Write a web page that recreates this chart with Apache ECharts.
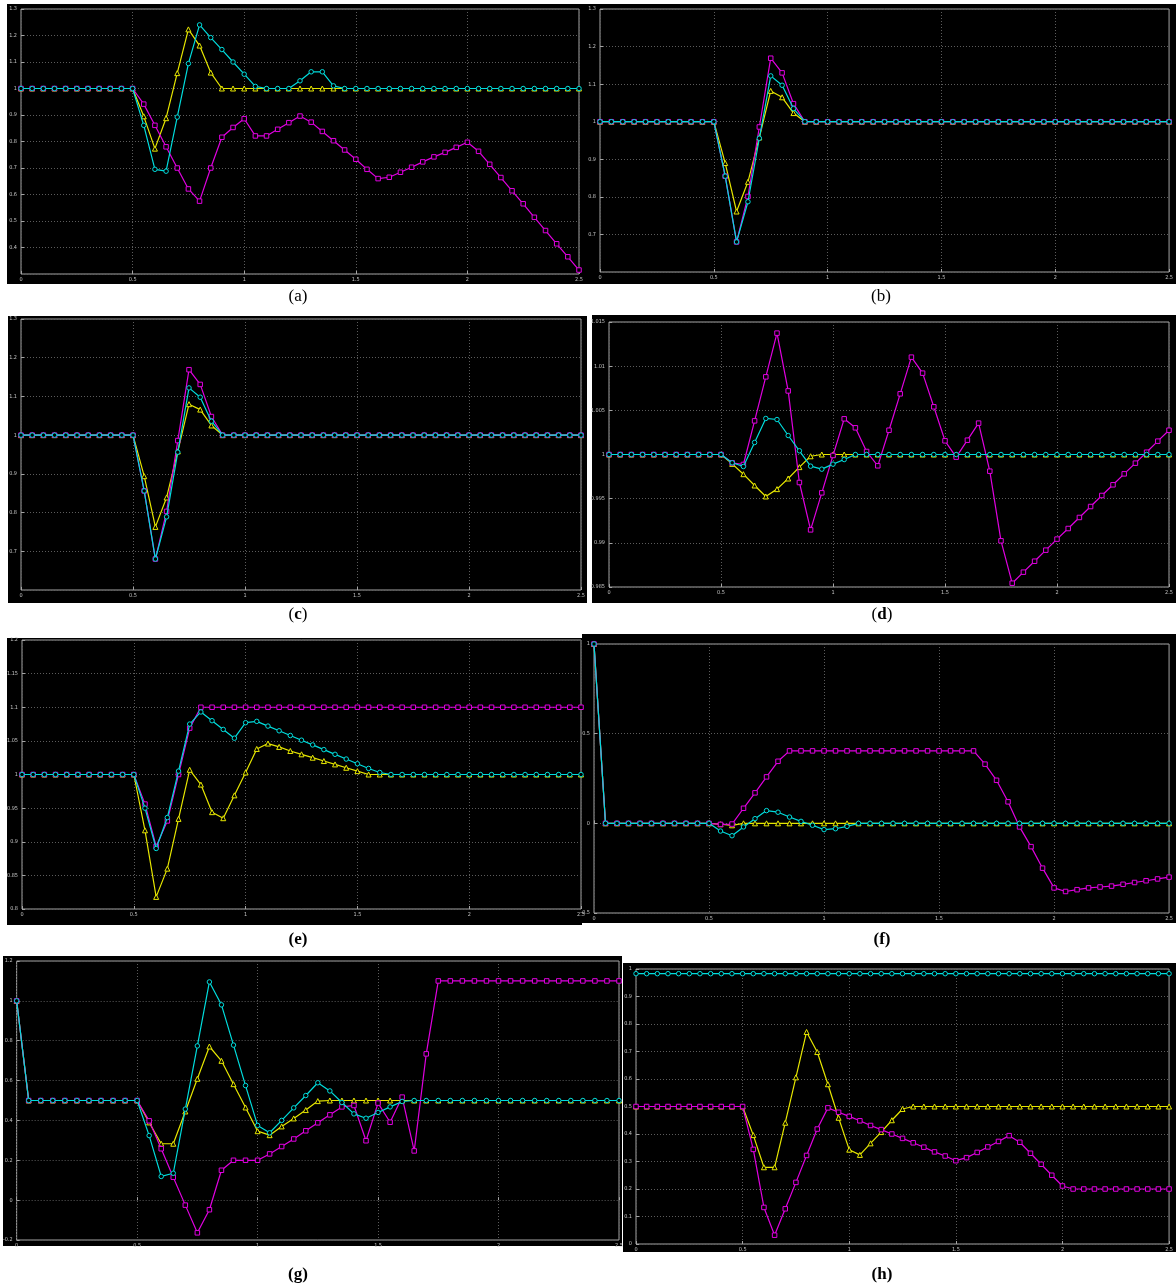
<!DOCTYPE html>
<html>
<head>
<meta charset="utf-8">
<title>Responses (a)-(h)</title>
<script src="https://cdn.jsdelivr.net/npm/echarts@6/dist/echarts.min.js"></script>
<style>
  html, body { margin: 0; padding: 0; background: #fff; }
  #chart { width: 1176px; height: 1287px; }
</style>
</head>
<body>
<div id="chart"></div>
<script>
// Sample times (s)
const T = [0,0.05,0.1,0.15,0.2,0.25,0.3,0.35,0.4,0.45,0.5,0.55,0.6,0.65,0.7,0.75,0.8,0.85,0.9,0.95,
  1,1.05,1.1,1.15,1.2,1.25,1.3,1.35,1.4,1.45,1.5,1.55,1.6,1.65,1.7,1.75,1.8,1.85,1.9,1.95,
  2,2.05,2.1,2.15,2.2,2.25,2.3,2.35,2.4,2.45,2.5];
const X_TICKS = [0, 0.5, 1, 1.5, 2, 2.5];

// (a)
const aYellow = [1,1,1,1,1,1,1,1,1,1,1, 0.895,0.773,0.888,1.058,1.223,1.162,1.06,
  1,1,1,1,1,1,1,1,1,1,1,1,1,1,1,1,1,1,1,1,1,1,1,1,1,1,1,1,1,1,1,1,1];
const aMagenta = [1,1,1,1,1,1,1,1,1,1,1, 0.941,0.861,0.78,0.70,0.621,0.575,0.70,0.816,0.853,
  0.886,0.821,0.821,0.846,0.871,0.896,0.873,0.838,0.803,0.768,0.733,0.695,0.66,0.665,0.684,0.703,0.723,0.742,0.759,0.778,
  0.797,0.763,0.714,0.664,0.614,0.565,0.514,0.464,0.414,0.365,0.315];
const aCyan = [1,1,1,1,1,1,1,1,1,1,1, 0.861,0.695,0.688,0.892,1.094,1.24,1.192,1.147,1.10,
  1.054,1.008,1,1,1,1.029,1.063,1.063,1.01,
  1,1,1,1,1,1,1,1,1,1,1,1,1,1,1,1,1,1,1,1,1,1,1];

// (b)
const bYellow = [1,1,1,1,1,1,1,1,1,1,1, 0.89,0.761,0.84,0.958,1.082,1.065,1.023,
  1,1,1,1,1,1,1,1,1,1,1,1,1,1,1,1,1,1,1,1,1,1,1,1,1,1,1,1,1,1,1,1,1];
const bMagenta = [1,1,1,1,1,1,1,1,1,1,1, 0.855,0.68,0.801,0.986,1.169,1.13,1.048,
  1,1,1,1,1,1,1,1,1,1,1,1,1,1,1,1,1,1,1,1,1,1,1,1,1,1,1,1,1,1,1,1,1];
const bCyan = [1,1,1,1,1,1,1,1,1,1,1, 0.855,0.68,0.787,0.956,1.122,1.097,1.035,
  1,1,1,1,1,1,1,1,1,1,1,1,1,1,1,1,1,1,1,1,1,1,1,1,1,1,1,1,1,1,1,1,1];

// (c)
const cYellow = [1,1,1,1,1,1,1,1,1,1,1, 0.894,0.763,0.839,0.958,1.08,1.066,1.025,
  1,1,1,1,1,1,1,1,1,1,1,1,1,1,1,1,1,1,1,1,1,1,1,1,1,1,1,1,1,1,1,1,1];
const cMagenta = [1,1,1,1,1,1,1,1,1,1,1, 0.856,0.68,0.803,0.986,1.169,1.131,1.048,
  1,1,1,1,1,1,1,1,1,1,1,1,1,1,1,1,1,1,1,1,1,1,1,1,1,1,1,1,1,1,1,1,1];
const cCyan = [1,1,1,1,1,1,1,1,1,1,1, 0.856,0.68,0.789,0.956,1.122,1.098,1.036,
  1,1,1,1,1,1,1,1,1,1,1,1,1,1,1,1,1,1,1,1,1,1,1,1,1,1,1,1,1,1,1,1,1];

// (d)
const dYellow = [1,1,1,1,1,1,1,1,1,1,1, 0.99894,0.99777,0.99649,0.99525,0.99608,0.99728,0.99857,0.9998,
  1,1,1,1,1,1,1,1,1,1,1,1,1,1,1,1,1,1,1,1,1,1,1,1,1,1,1,1,1,1,1,1];
const dMagenta = [1,1,1,1,1,1,1,1,1,1,1, 0.99906,0.99887,1.00381,1.00879,1.01374,1.0072,0.99683,0.99147,0.99566,
  0.99989,1.00404,1.00302,1.00034,0.99872,1.00275,1.00687,1.01102,1.00921,1.0054,1.00155,0.9997,1.00162,1.00355,0.99811,
  0.99023,0.98543,0.98668,0.98792,0.98917,0.99042,0.99162,0.99287,0.99411,0.99536,0.99657,0.99781,0.99902,1.00026,1.00151,1.00275];
const dCyan = [1,1,1,1,1,1,1,1,1,1,1, 0.99906,0.99864,1.00136,1.00408,1.00396,1.00215,1.00042,0.99868,0.99834,
  0.99891,0.99943,
  1,1,1,1,1,1,1,1,1,1,1,1,1,1,1,1,1,1,1,1,1,1,1,1,1,1,1,1,1];

// (e)
const eYellow = [1,1,1,1,1,1,1,1,1,1,1, 0.917,0.818,0.86,0.934,1.007,0.985,0.944,0.935,0.969,
  1.003,1.038,1.046,1.041,1.035,1.03,1.025,1.02,1.015,1.01,1.005,
  1,1,1,1,1,1,1,1,1,1,1,1,1,1,1,1,1,1,1,1];
const eMagenta = [1,1,1,1,1,1,1,1,1,1,1, 0.956,0.893,0.931,1.0,1.069,
  1.1,1.1,1.1,1.1,1.1,1.1,1.1,1.1,1.1,1.1,1.1,1.1,1.1,1.1,1.1,1.1,1.1,1.1,1.1,1.1,1.1,1.1,1.1,1.1,
  1.1,1.1,1.1,1.1,1.1,1.1,1.1,1.1,1.1,1.1,1.1];
const eCyan = [1,1,1,1,1,1,1,1,1,1,1, 0.95,0.89,0.936,1.005,1.075,1.093,1.08,1.067,1.054,
  1.077,1.079,1.072,1.065,1.058,1.051,1.044,1.037,1.03,1.023,1.016,1.009,1.003,
  1,1,1,1,1,1,1,1,1,1,1,1,1,1,1,1,1,1];

// (f)
const fYellow = [1,0,0,0,0,0,0,0,0,0,0, -0.005,-0.011,
  0,0,0,0,0,0,0,0,0,0,0,0,0,0,0,0,0,0,0,0,0,0,0,0,0,0,0,0,0,0,0,0,0,0,0,0,0,0];
const fMagenta = [1,0,0,0,0,0,0,0,0,0,0, -0.006,-0.004,0.084,0.17,0.259,0.346,
  0.404,0.404,0.404,0.404,0.404,0.404,0.404,0.404,0.404,0.404,0.404,0.404,0.404,0.404,0.404,0.404,0.404,
  0.33,0.24,0.12,-0.02,-0.13,-0.25,-0.36,-0.38,-0.37,-0.36,-0.355,-0.35,-0.34,-0.33,-0.32,-0.31,-0.30];
const fCyan = [1,0,0,0,0,0,0,0,0,0,0, -0.043,-0.069,-0.02,0.026,0.071,0.062,0.035,0.011,-0.011,
  -0.035,-0.03,-0.017,
  0,0,0,0,0,0,0,0,0,0,0,0,0,0,0,0,0,0,0,0,0,0,0,0,0,0,0,0];

// (g)
const gYellow = [1,0.5,0.5,0.5,0.5,0.5,0.5,0.5,0.5,0.5,0.5, 0.39,0.283,0.283,0.445,0.609,0.771,0.699,0.582,0.465,
  0.346,0.326,0.37,0.41,0.452,0.497,
  0.5,0.5,0.5,0.5,0.5,0.5,0.5,0.5,0.5,0.5,0.5,0.5,0.5,0.5,0.5,0.5,0.5,0.5,0.5,0.5,0.5,0.5,0.5,0.5,0.5];
const gMagenta = [1,0.5,0.5,0.5,0.5,0.5,0.5,0.5,0.5,0.5,0.5, 0.398,0.258,0.115,-0.025,-0.164,-0.048,0.15,0.2,0.2,
  0.2,0.232,0.269,0.307,0.348,0.388,0.428,0.468,0.475,0.298,0.487,0.391,0.517,0.247,0.734,
  1.1,1.1,1.1,1.1,1.1,1.1,1.1,1.1,1.1,1.1,1.1,1.1,1.1,1.1,1.1,1.1];
const gCyan = [1,0.5,0.5,0.5,0.5,0.5,0.5,0.5,0.5,0.5,0.5, 0.324,0.119,0.135,0.457,0.774,1.095,0.98,0.778,0.575,
  0.375,0.338,0.4,0.463,0.525,0.589,0.548,0.49,0.433,0.411,0.44,0.468,0.495,
  0.5,0.5,0.5,0.5,0.5,0.5,0.5,0.5,0.5,0.5,0.5,0.5,0.5,0.5,0.5,0.5,0.5,0.5];

// (h)
const hYellow = [0.5,0.5,0.5,0.5,0.5,0.5,0.5,0.5,0.5,0.5,0.5, 0.396,0.279,0.279,0.441,0.606,0.771,0.698,0.581,0.459,
  0.343,0.324,0.366,0.407,0.45,0.491,
  0.5,0.5,0.5,0.5,0.5,0.5,0.5,0.5,0.5,0.5,0.5,0.5,0.5,0.5,0.5,0.5,0.5,0.5,0.5,0.5,0.5,0.5,0.5,0.5,0.5];
const hMagenta = [0.5,0.5,0.5,0.5,0.5,0.5,0.5,0.5,0.5,0.5,0.5, 0.344,0.133,0.032,0.128,0.224,0.322,0.418,0.495,0.479,
  0.464,0.448,0.431,0.416,0.4,0.384,0.368,0.352,0.335,0.32,0.303,0.314,0.333,0.353,0.373,0.394,0.37,0.33,0.29,0.25,
  0.211,0.2,0.2,0.2,0.2,0.2,0.2,0.2,0.2,0.2,0.2];
const hCyan = [0.983,0.983,0.983,0.983,0.983,0.983,0.983,0.983,0.983,0.983,0.983,0.983,0.983,0.983,0.983,0.983,0.983,
  0.983,0.983,0.983,0.983,0.983,0.983,0.983,0.983,0.983,0.983,0.983,0.983,0.983,0.983,0.983,0.983,0.983,0.983,0.983,
  0.983,0.983,0.983,0.983,0.983,0.983,0.983,0.983,0.983,0.983,0.983,0.983,0.983,0.983,0.983];

// Y-axis ranges [min, max, step] per panel
const Y_RANGES = {
  a: [0.3, 1.3, 0.1], b: [0.6, 1.3, 0.1], c: [0.6, 1.3, 0.1], d: [0.985, 1.015, 0.005],
  e: [0.8, 1.2, 0.05], f: [-0.5, 1, 0.5], g: [-0.2, 1.2, 0.2], h: [0, 1, 0.1]
};

const SERIES = {
  a: [aYellow, aMagenta, aCyan], b: [bYellow, bMagenta, bCyan],
  c: [cYellow, cMagenta, cCyan], d: [dYellow, dMagenta, dCyan],
  e: [eYellow, eMagenta, eCyan], f: [fYellow, fMagenta, fCyan],
  g: [gYellow, gMagenta, gCyan], h: [hYellow, hMagenta, hCyan]
};

// Layout: black figure area, plot box and caption for each panel
const LAYOUT = [
  { key: 'a', bg: [7, 4, 581, 280],    box: [21, 9, 558, 265],   hideMin: true,  cap: [298, 297], bold: 'none' },
  { key: 'b', bg: [588, 4, 588, 280],  box: [600, 9, 570, 263],  hideMin: true,  cap: [881, 297], bold: 'none' },
  { key: 'c', bg: [8, 316, 579, 287],  box: [21, 319, 560, 271], hideMin: true,  cap: [298, 615], bold: 'letter' },
  { key: 'd', bg: [592, 315, 584, 288],box: [609, 322, 560, 265],hideMin: false, cap: [882, 615], bold: 'letter' },
  { key: 'e', bg: [7, 638, 575, 287],  box: [22, 640, 559, 269], hideMin: false, cap: [298, 940], bold: 'all' },
  { key: 'f', bg: [582, 634, 594, 289],box: [594, 644, 580, 269],hideMin: false, cap: [882, 940], bold: 'all' },
  { key: 'g', bg: [3, 956, 619, 290],  box: [16, 961, 603, 279], hideMin: false, cap: [298, 1275], bold: 'all' },
  { key: 'h', bg: [623, 963, 553, 289],box: [636, 969, 542, 275],hideMin: false, cap: [882, 1275], bold: 'all' }
];

const COLORS = ['#e6e600', '#e000e0', '#00dcdc'];
const SYMBOLS = ['triangle', 'rect', 'circle'];
const SIZES = [5, 4.5, 4.5];
const TICK_FONT = '"Liberation Sans Narrow", "DejaVu Sans Condensed", "Liberation Sans", sans-serif';

const grids = [], xAxes = [], yAxes = [], series = [], graphics = [];

LAYOUT.forEach((p, i) => {
  const [ymin, ymax, ystep] = Y_RANGES[p.key];
  graphics.push({
    type: 'rect', z: -10,
    shape: { x: p.bg[0], y: p.bg[1], width: p.bg[2], height: p.bg[3] },
    style: { fill: '#000' }
  });
  let capText, rich = {
    n: { fontFamily: 'Liberation Serif', fontSize: 17, fontWeight: 'normal', fill: '#000', color: '#000' },
    b: { fontFamily: 'Liberation Serif', fontSize: 17, fontWeight: 'bold', fill: '#000', color: '#000' }
  };
  if (p.bold === 'none') capText = '{n|(' + p.key + ')}';
  else if (p.bold === 'letter') capText = '{n|(}{b|' + p.key + '}{n|)}';
  else capText = '{b|(' + p.key + ')}';
  graphics.push({
    type: 'text', x: p.cap[0], y: p.cap[1],
    style: { text: capText, rich: rich, align: 'center', verticalAlign: 'middle', textAlign: 'center', textVerticalAlign: 'middle' }
  });

  grids.push({
    left: p.box[0], top: p.box[1], width: p.box[2], height: p.box[3],
    show: true, borderColor: '#a4a4a4', borderWidth: 1, backgroundColor: 'transparent'
  });
  xAxes.push({
    gridIndex: i, type: 'value', min: 0, max: 2.5, interval: 0.5,
    axisLine: { show: false },
    axisTick: { show: true, inside: true, length: 3, lineStyle: { color: '#a4a4a4' } },
    axisLabel: { color: '#c4c4c4', fontSize: 5.5, fontFamily: TICK_FONT, margin: 3,
      customValues: X_TICKS, formatter: v => String(v) },
    splitLine: { show: true, lineStyle: { color: '#5c5c5c', type: [1, 2], width: 1 } }
  });
  yAxes.push({
    gridIndex: i, type: 'value', min: ymin, max: ymax, interval: ystep,
    axisLine: { show: false },
    axisTick: { show: true, inside: true, length: 3, lineStyle: { color: '#a4a4a4' } },
    axisLabel: { color: '#c4c4c4', fontSize: 5.5, fontFamily: TICK_FONT, margin: 4,
      showMinLabel: !p.hideMin, showMaxLabel: true },
    splitLine: { show: true, lineStyle: { color: '#5c5c5c', type: [1, 2], width: 1 } }
  });
  SERIES[p.key].forEach((vals, k) => {
    series.push({
      type: 'line', xAxisIndex: i, yAxisIndex: i,
      data: T.map((t, j) => [t, vals[j]]),
      symbol: SYMBOLS[k], symbolSize: SIZES[k], showAllSymbol: true,
      lineStyle: { color: COLORS[k], width: 1.2 },
      itemStyle: { color: '#000', borderColor: COLORS[k], borderWidth: 1 },
      emphasis: { disabled: true },
      clip: true, z: 2 + k
    });
  });
});

const chart = echarts.init(document.getElementById('chart'), null, { renderer: 'canvas' });
chart.setOption({
  animation: false,
  backgroundColor: '#fff',
  grid: grids, xAxis: xAxes, yAxis: yAxes, series: series,
  graphic: { elements: graphics }
});
</script>
</body>
</html>
